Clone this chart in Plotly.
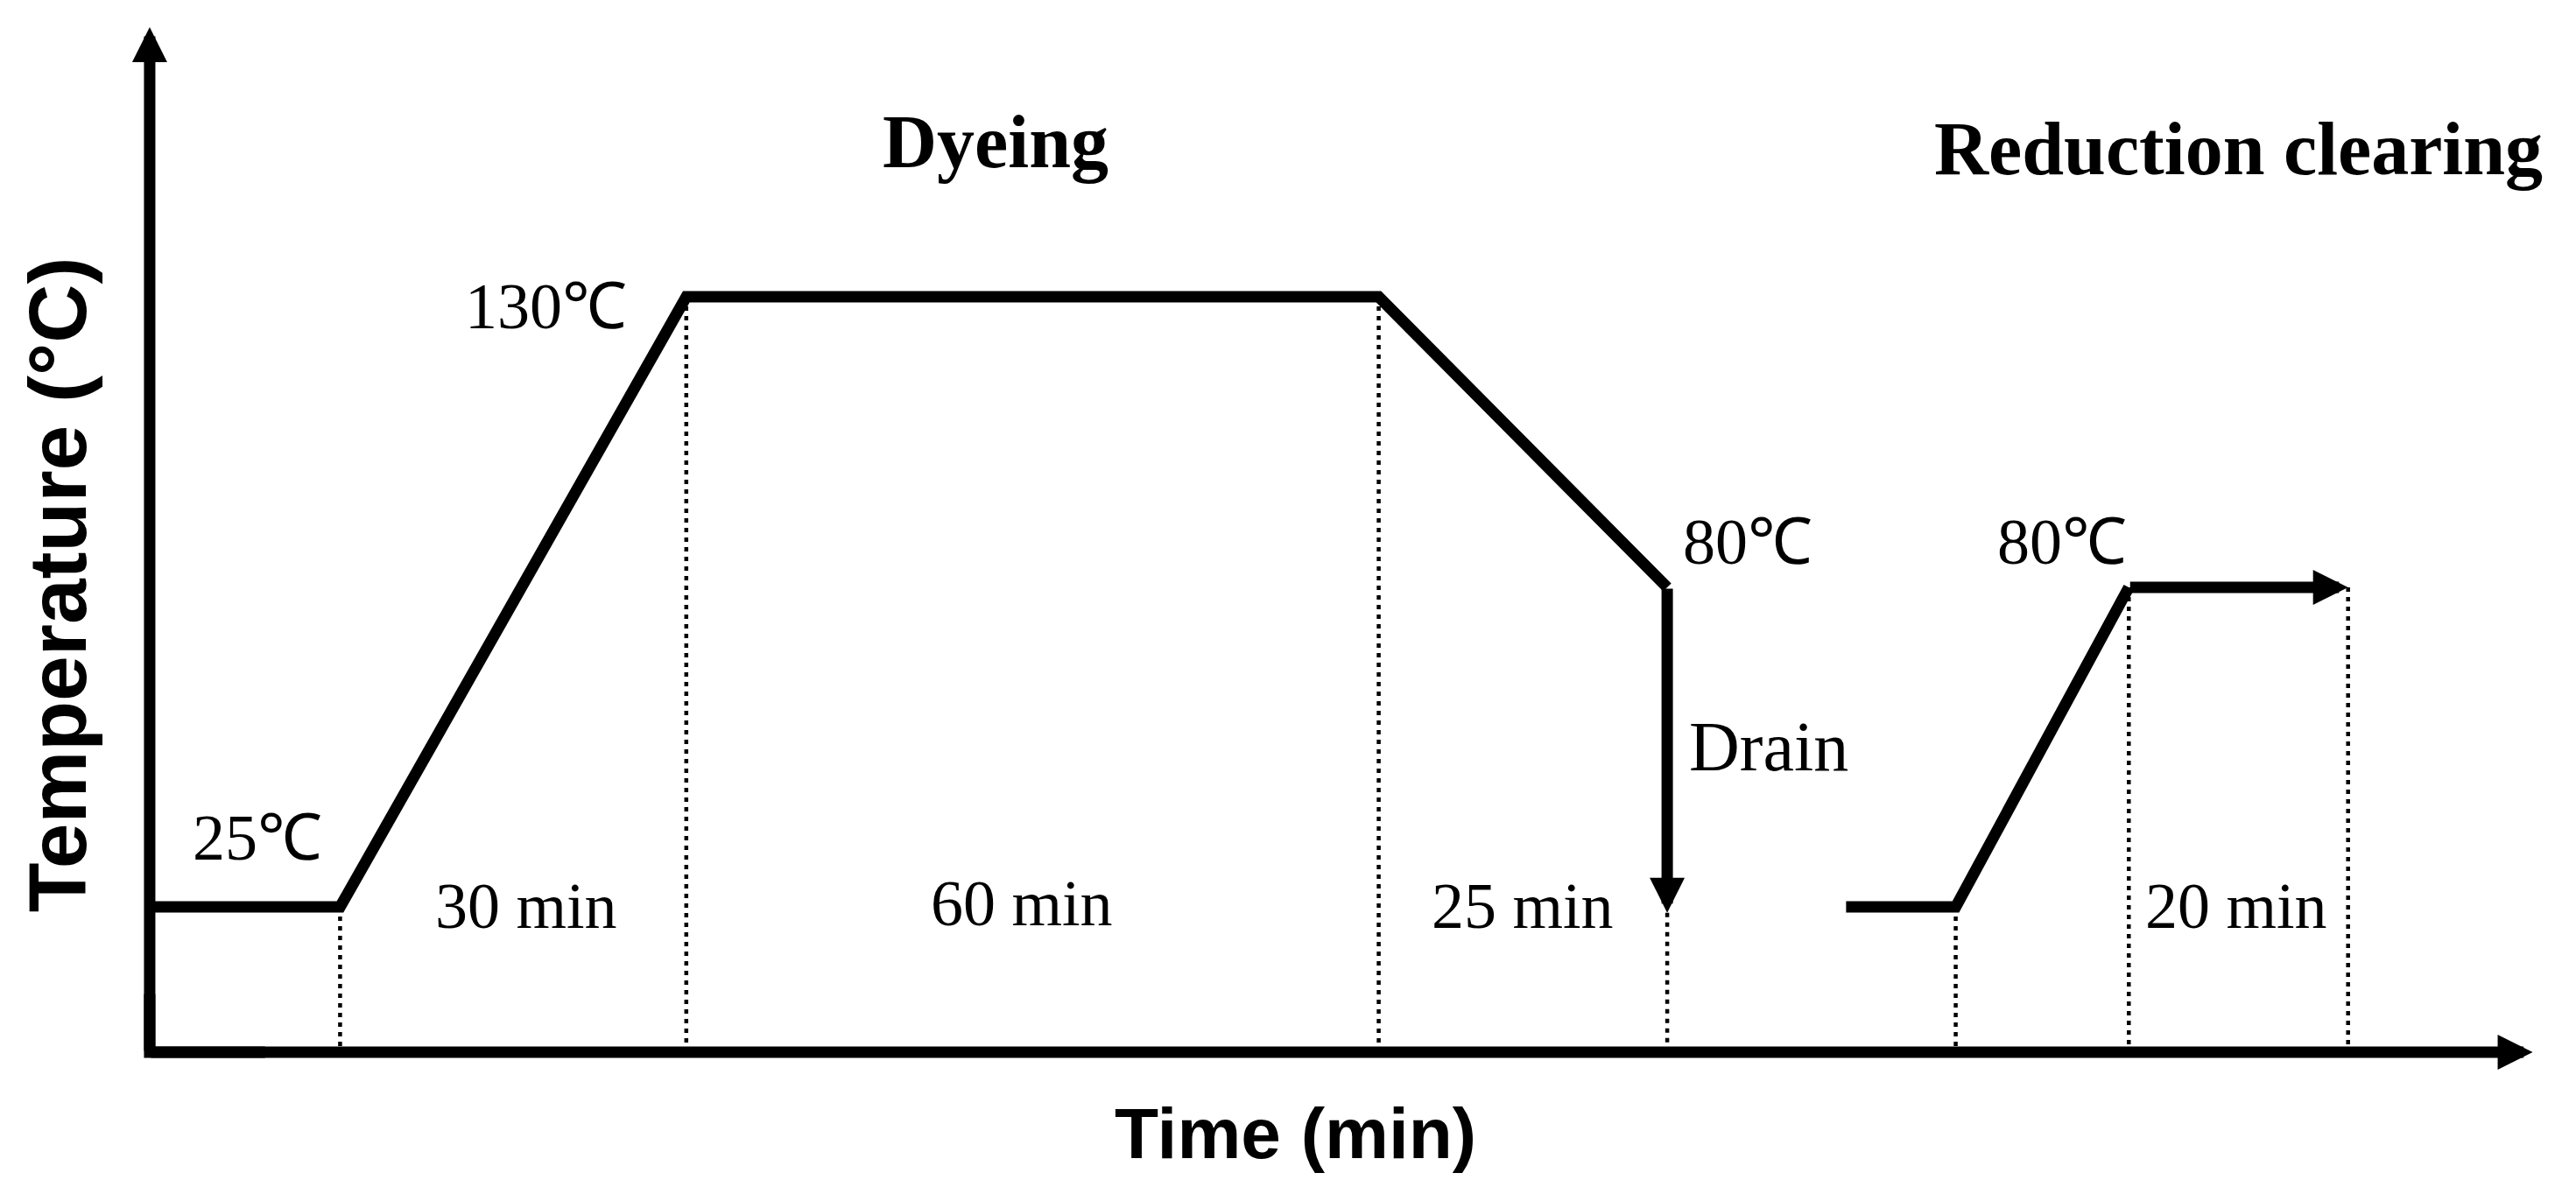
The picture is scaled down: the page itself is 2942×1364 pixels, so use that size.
# Dyeing / reduction clearing temperature profile (schematic)
import plotly.graph_objects as go

# dyeing stage: time (min) and temperature (C)
dye_time = [0, 16.5, 46.5, 106.5, 131.5]
dye_temp = [25, 25, 130, 130, 80]

# drain after dyeing
drain_time = 131.5
drain_from = 80
drain_to = 24

# reduction clearing stage
clear_time = [147, 156.5, 171.5, 190.5]
clear_temp = [25, 25, 80, 80]

# axis extents (data units)
x_end = 206.5
y_end = 176.4

# labels: (text, x, y)
temp_labels = [("130℃", 34.3, 128.4), ("25℃", 9.3, 36.9),
               ("80℃", 138.5, 87.8), ("80℃", 165.7, 87.8)]
dur_labels = [("30 min", 32.6, 25.2), ("60 min", 75.6, 25.6),
              ("25 min", 119.0, 25.2), ("20 min", 180.8, 25.2)]
stage_labels = [("Dyeing", 73.3, 156.7), ("Reduction clearing", 181.0, 155.5)]

SERIF = "Liberation Serif, Times New Roman, serif"
SANS = "Liberation Sans, Arial, sans-serif"

fig = go.Figure()

# dotted guide lines from each break point down to the time axis
guides = list(zip(dye_time[1:-1], dye_temp[1:-1])) + [(drain_time, drain_to)] + \
         list(zip(clear_time[1:], clear_temp[1:]))
for t, temp in guides:
    fig.add_trace(go.Scatter(x=[t, t], y=[temp, 0], mode="lines",
                             line=dict(color="black", width=4.5, dash="5px,6px"),
                             hoverinfo="skip", showlegend=False))

# profile lines
fig.add_trace(go.Scatter(x=dye_time, y=dye_temp, mode="lines",
                         line=dict(color="black", width=13), showlegend=False))
fig.add_trace(go.Scatter(x=clear_time[:-1], y=clear_temp[:-1], mode="lines",
                         line=dict(color="black", width=13), showlegend=False))

# corner of the axes
fig.add_trace(go.Scatter(x=[0, 0, 10], y=[10, 0, 0], mode="lines",
                         line=dict(color="black", width=13), showlegend=False))


def arrow(x0, y0, x1, y1, width=13):
    fig.add_annotation(x=x1, y=y1, ax=x0, ay=y0, xref="x", yref="y", axref="x", ayref="y",
                       text="", showarrow=True, arrowhead=2, arrowwidth=width,
                       arrowsize=8 / width, arrowcolor="black", standoff=0)


# axes with arrow heads
arrow(0, 0, x_end, 0)
arrow(0, 0, 0, y_end)
# drain arrow and final hold arrow
arrow(drain_time, drain_from, drain_time, drain_to)
arrow(clear_time[-2], clear_temp[-2], clear_time[-1], clear_temp[-1])

for txt, x, y in temp_labels + dur_labels:
    fig.add_annotation(x=x, y=y, text=txt, showarrow=False, xanchor="center", yanchor="middle",
                       font=dict(family=SERIF, size=74, color="black"))
fig.add_annotation(x=140.3, y=52.6, text="Drain", showarrow=False, xanchor="center",
                   yanchor="middle", font=dict(family=SERIF, size=80, color="black"))
for txt, x, y in stage_labels:
    fig.add_annotation(x=x, y=y, text=txt, showarrow=False, xanchor="center", yanchor="middle",
                       font=dict(family=SERIF, size=86, color="black", weight="bold"))

# axis titles
fig.add_annotation(x=99.3, y=-14.0, text="Time (min)", showarrow=False, xanchor="center",
                   yanchor="middle", font=dict(family=SANS, size=82, color="black", weight="bold"))
fig.add_annotation(x=-8.0, y=80.5, text="Temperature (°C)", showarrow=False, textangle=-90,
                   xanchor="center", yanchor="middle",
                   font=dict(family=SANS, size=93, color="black", weight="bold"))

fig.update_xaxes(visible=False, range=[-12.97, 210.25])
fig.update_yaxes(visible=False, range=[-24.40, 181.08])
fig.update_layout(width=2942, height=1364, margin=dict(l=0, r=0, t=0, b=0),
                  plot_bgcolor="white", paper_bgcolor="white", showlegend=False)

fig.write_html("out.html", config={"displayModeBar": False},
               post_script="document.body.style.margin='0';")
